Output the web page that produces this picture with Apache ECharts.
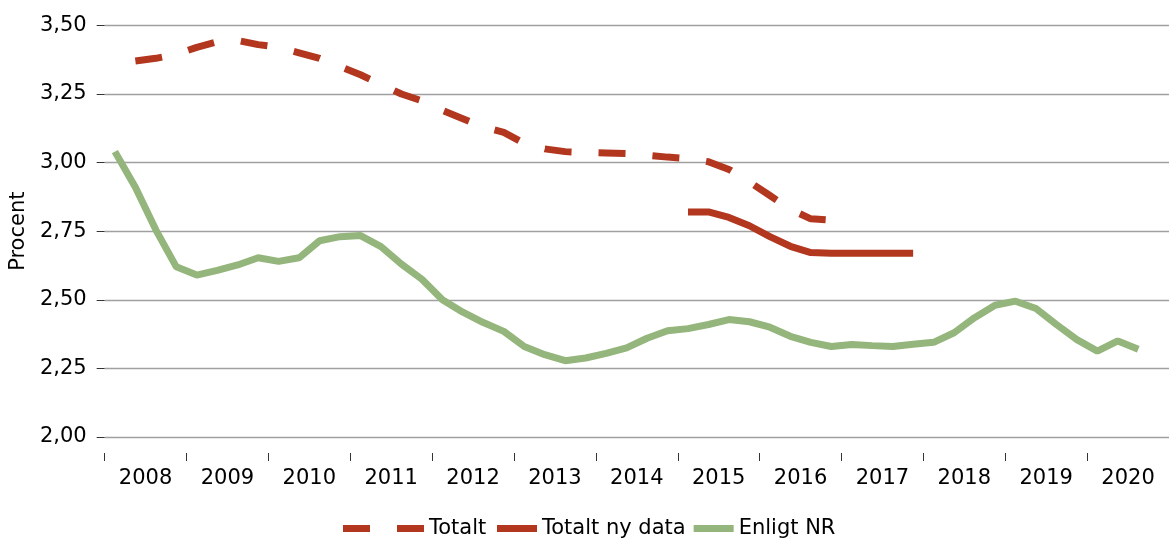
<!DOCTYPE html>
<html>
<head>
<meta charset="utf-8">
<script src="https://cdn.jsdelivr.net/npm/echarts@6/dist/echarts.min.js"></script>
<style>
  html, body { margin: 0; padding: 0; background: #fff; }
  #chart { width: 1169px; height: 543px; }
</style>
</head>
<body>
<div id="chart"></div>
<script>
// years shown on the axis, quarters used for the data
const years = ['2008', '2009', '2010', '2011', '2012', '2013', '2014', '2015', '2016', '2017', '2018', '2019', '2020'];
const quarters = [];
years.forEach(y => { for (let q = 1; q <= 4; q++) quarters.push(y + 'K' + q); });

const yTicks = [2.00, 2.25, 2.50, 2.75, 3.00, 3.25, 3.50];

// Totalt (streckad), 2008K2 - 2016K4
const totalt = [null, 3.37, 3.38, 3.395, 3.42, 3.44, 3.445, 3.43, 3.42, 3.40, 3.38, 3.35,
  3.32, 3.285, 3.25, 3.225, 3.19, 3.16, 3.13, 3.11, 3.07, 3.05, 3.04, 3.037,
  3.035, 3.033, 3.027, 3.02, 3.015, 3.003, 2.975, 2.93, 2.88, 2.83, 2.795, 2.79];

// Totalt ny data, 2015K1 - 2017K4
const totaltNy = [null, null, null, null, null, null, null, null, null, null, null, null,
  null, null, null, null, null, null, null, null, null, null, null, null,
  null, null, null, null, 2.82, 2.82, 2.80, 2.77, 2.73, 2.695, 2.672, 2.67,
  2.67, 2.67, 2.67, 2.67];

// Enligt NR, 2008K1 - 2020K3
const enligtNR = [3.04, 2.91, 2.755, 2.62, 2.59, 2.607, 2.627, 2.653, 2.64, 2.653, 2.715, 2.73,
  2.734, 2.694, 2.63, 2.575, 2.50, 2.455, 2.417, 2.385, 2.33, 2.30, 2.278, 2.288,
  2.305, 2.325, 2.36, 2.387, 2.395, 2.41, 2.428, 2.42, 2.40, 2.367, 2.345, 2.33,
  2.337, 2.333, 2.33, 2.338, 2.345, 2.38, 2.435, 2.48, 2.495, 2.468, 2.41, 2.355,
  2.313, 2.35, 2.32];

const red = '#b3361f';
const green = '#94b57b';
const font = 'DejaVu Sans';

const chart = echarts.init(document.getElementById('chart'));

chart.setOption({
  animation: false,
  textStyle: { fontFamily: font },
  grid: { left: 102, right: -5.5, top: 25.4, bottom: 106, containLabel: false },
  legend: [
    {
      data: ['Totalt'],
      left: 343, top: 518, padding: 0,
      itemWidth: 81, itemHeight: 7,
      icon: 'path://M0,0h27v7h-27z M54,0h27v7h-27z',
      itemStyle: { borderWidth: 0 },
      textStyle: { fontFamily: font, fontSize: 21, color: '#000' }
    },
    {
      data: ['Totalt ny data', 'Enligt NR'],
      left: 497, top: 518, padding: 0,
      itemWidth: 40, itemHeight: 7, itemGap: 8,
      icon: 'rect',
      itemStyle: { borderWidth: 0 },
      textStyle: { fontFamily: font, fontSize: 21, color: '#000' }
    }
  ],
  xAxis: [
    {
      type: 'category',
      data: years,
      boundaryGap: true,
      offset: 16,
      axisLine: { show: false },
      axisTick: { show: true, length: 8, lineStyle: { color: '#333', width: 1 } },
      axisLabel: { margin: 15, fontFamily: font, fontSize: 21, color: '#000' },
      splitLine: { show: false }
    },
    {
      type: 'category',
      data: quarters,
      boundaryGap: true,
      show: false
    }
  ],
  yAxis: {
    type: 'value',
    min: yTicks[0],
    max: yTicks[yTicks.length - 1],
    interval: 0.25,
    name: 'Procent',
    nameLocation: 'middle',
    nameRotate: 90,
    nameGap: 70,
    nameTextStyle: { fontFamily: font, fontSize: 21, color: '#000' },
    axisLine: { show: false },
    axisTick: { show: true, length: 8, lineStyle: { color: '#333', width: 1 } },
    axisLabel: {
      margin: 18, fontFamily: font, fontSize: 21, color: '#000',
      formatter: v => v.toFixed(2).replace('.', ',')
    },
    splitLine: { show: true, lineStyle: { color: '#a0a0a0', width: 1.3 } }
  },
  series: [
    {
      name: 'Totalt',
      type: 'line',
      xAxisIndex: 1,
      data: totalt,
      color: red,
      showSymbol: false,
      lineStyle: { color: red, width: 7, type: [27, 27], cap: 'butt' }
    },
    {
      name: 'Totalt ny data',
      type: 'line',
      xAxisIndex: 1,
      data: totaltNy,
      color: red,
      showSymbol: false,
      lineStyle: { color: red, width: 7 }
    },
    {
      name: 'Enligt NR',
      type: 'line',
      xAxisIndex: 1,
      data: enligtNR,
      color: green,
      showSymbol: false,
      lineStyle: { color: green, width: 7 }
    }
  ]
});
</script>
</body>
</html>
